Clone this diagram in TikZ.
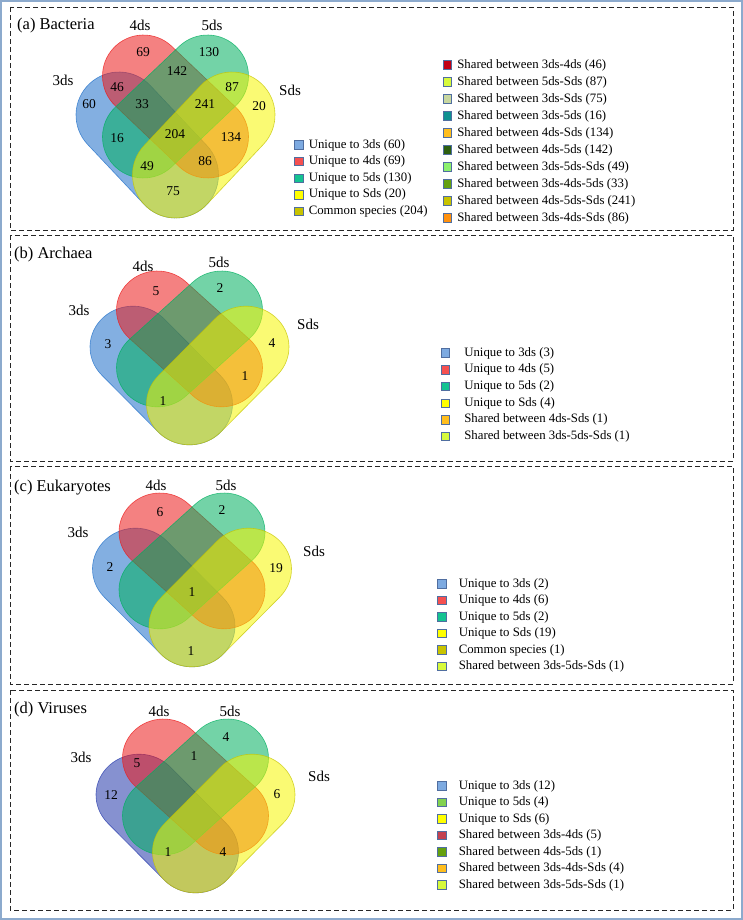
\documentclass[tikz,border=0pt]{standalone}
\usepackage{fontspec}
\setmainfont{Liberation Serif}
\usetikzlibrary{shapes.misc, positioning}
\definecolor{vnblue}{RGB}{30,110,200}
\definecolor{vnindigo}{RGB}{35,55,170}
\definecolor{vnred}{RGB}{235,25,25}
\definecolor{vngreen}{RGB}{0,175,95}
\definecolor{vnyellow}{RGB}{245,245,0}
\definecolor{frameblue}{RGB}{140,170,205}
\definecolor{lgedge}{RGB}{80,110,160}
\definecolor{lgblue}{RGB}{125,170,225}
\definecolor{lgred}{RGB}{245,80,80}
\definecolor{lgteal}{RGB}{20,195,145}
\definecolor{lgyellow}{RGB}{255,255,0}
\definecolor{lgolive}{RGB}{200,195,0}
\definecolor{lgmaroon}{RGB}{195,0,20}
\definecolor{lglime}{RGB}{215,250,60}
\definecolor{lgpale}{RGB}{200,215,160}
\definecolor{lgcyan}{RGB}{15,145,145}
\definecolor{lgamber}{RGB}{255,190,30}
\definecolor{lgforest}{RGB}{45,95,15}
\definecolor{lgmint}{RGB}{140,240,110}
\definecolor{lggrass}{RGB}{100,160,15}
\definecolor{lgorange}{RGB}{255,145,15}
\definecolor{lgrose}{RGB}{195,65,80}
\definecolor{lgleaf}{RGB}{130,210,80}
\tikzset{
  vset/.style={rounded rectangle, inner sep=0pt, transform shape,
              fill opacity=0.55, draw opacity=0.75, line width=0.6pt},
  panel/.style={draw=black!85, line width=0.9pt, dash pattern=on 5pt off 3pt},
  setlbl/.style={font=\fontsize{15}{15}\selectfont, inner sep=0pt},
  ptitle/.style={font=\fontsize{16.5}{16.5}\selectfont, inner sep=0pt, anchor=west},
  cnt/.style={font=\fontsize{13.5}{13.5}\selectfont, inner sep=0pt},
  lgbox/.style={draw=lgedge, line width=0.7pt, minimum size=8.5pt, inner sep=0pt},
  lgtext/.style={font=\fontsize{12.8}{12.8}\selectfont, inner sep=0pt},
}
% four-set venn, placed by its top centre
\newcommand{\vennfour}[5]{%
  \begin{scope}[shift={(#2,#3)}, yscale=#4]
    \node[vset, fill=#5, draw=#5, minimum width=168.4pt, minimum height=86pt, rotate=-46.7] (#1-3ds) at (-28.25,110) {};
    \node[vset, fill=vnred, draw=vnred, minimum width=170.4pt, minimum height=82pt, rotate=-43.6] (#1-4ds) at (0,71.5) {};
    \node[vset, fill=vngreen, draw=vngreen, minimum width=170.4pt, minimum height=82pt, rotate=43.6] (#1-5ds) at (0,71.5) {};
    \node[vset, fill=vnyellow, draw=vnyellow!80!black, minimum width=168.4pt, minimum height=86pt, rotate=46.7] (#1-Sds) at (28.25,110) {};
  \end{scope}}

\begin{document}
\begin{tikzpicture}[x=1pt,y=-1pt]
  \useasboundingbox (0,0) rectangle (743,920);
  \draw[frameblue, line width=1.2pt] (1,1) rectangle (742,919);
  \draw[panel] (10,7) rectangle (733,230);
  \draw[panel] (10,235) rectangle (733,461);
  \draw[panel] (10,466) rectangle (733,684);
  \draw[panel] (10,690) rectangle (733,910);

  % (a) Bacteria
  \vennfour{a}{175.5}{35}{1}{vnblue}
  \node[ptitle] (a-title) at (17,26) {(a) Bacteria};
  \node[setlbl] (a-l3ds) at (63,80) {3ds};
  \node[setlbl] (a-l4ds) at (140,25) {4ds};
  \node[setlbl] (a-l5ds) at (212,25) {5ds};
  \node[setlbl] (a-lSds) at (290,90) {Sds};
  \foreach \p/\v [count=\i] in {{143,52}/69, {209,52}/130, {177,71}/142, {117,87}/46,
      {232,87}/87, {89,104}/60, {142,104}/33, {205,104}/241, {259,106}/20, {117,138}/16,
      {175,134}/204, {231,137}/134, {147,166}/49, {205,161}/86, {173,191}/75}
    \node[cnt] (a-c\i) at (\p) {\v};
  \foreach \c/\t [count=\i from 0] in {lgblue/Unique to 3ds (60), lgred/Unique to 4ds (69),
      lgteal/Unique to 5ds (130), lgyellow/Unique to Sds (20), lgolive/Common species (204)}{
    \node[lgbox, fill=\c] (a-u\i) at (299,145+16.6*\i) {};
    \node[lgtext, right=5pt of a-u\i] (a-ut\i) {\t};
  }
  \foreach \c/\t [count=\i from 0] in {lgmaroon/Shared between 3ds-4ds (46),
      lglime/Shared between 5ds-Sds (87), lgpale/Shared between 3ds-Sds (75),
      lgcyan/Shared between 3ds-5ds (16), lgamber/Shared between 4ds-Sds (134),
      lgforest/Shared between 4ds-5ds (142), lgmint/Shared between 3ds-5ds-Sds (49),
      lggrass/Shared between 3ds-4ds-5ds (33), lgolive/Shared between 4ds-5ds-Sds (241),
      lgorange/Shared between 3ds-4ds-Sds (86)}{
    \node[lgbox, fill=\c] (a-s\i) at (447.5,65+17*\i) {};
    \node[lgtext, right=5pt of a-s\i] (a-st\i) {\t};
  }

  % (b) Archaea
  \vennfour{b}{189.5}{271}{0.95}{vnblue}
  \node[ptitle] (b-title) at (14,255) {(b) Archaea};
  \node[setlbl] (b-l3ds) at (79,310) {3ds};
  \node[setlbl] (b-l4ds) at (143,266) {4ds};
  \node[setlbl] (b-l5ds) at (219,262) {5ds};
  \node[setlbl] (b-lSds) at (308,324) {Sds};
  \foreach \p/\v [count=\i] in {{156,291}/5, {220,288}/2, {108,344}/3, {272,343}/4,
      {245,376}/1, {163,401}/1}
    \node[cnt] (b-c\i) at (\p) {\v};
  \foreach \c/\t [count=\i from 0] in {lgblue/Unique to 3ds (3), lgred/Unique to 4ds (5),
      lgteal/Unique to 5ds (2), lgyellow/Unique to Sds (4), lgamber/Shared between 4ds-Sds (1),
      lglime/Shared between 3ds-5ds-Sds (1)}{
    \node[lgbox, fill=\c] (b-u\i) at (445.5,353+16.7*\i) {};
    \node[lgtext, right=14pt of b-u\i] (b-ut\i) {\t};
  }

  % (c) Eukaryotes
  \vennfour{c}{192}{493}{0.95}{vnblue}
  \node[ptitle] (c-title) at (14,488) {(c) Eukaryotes};
  \node[setlbl] (c-l3ds) at (78,532) {3ds};
  \node[setlbl] (c-l4ds) at (156,485) {4ds};
  \node[setlbl] (c-l5ds) at (226,485) {5ds};
  \node[setlbl] (c-lSds) at (314,551) {Sds};
  \foreach \p/\v [count=\i] in {{160,512}/6, {222,510}/2, {110,567}/2, {276,568}/19,
      {192,592}/1, {191,651}/1}
    \node[cnt] (c-c\i) at (\p) {\v};
  \foreach \c/\t [count=\i from 0] in {lgblue/Unique to 3ds (2), lgred/Unique to 4ds (6),
      lgteal/Unique to 5ds (2), lgyellow/Unique to Sds (19), lgolive/Common species (1),
      lglime/Shared between 3ds-5ds-Sds (1)}{
    \node[lgbox, fill=\c] (c-u\i) at (442,584+16.5*\i) {};
    \node[lgtext, right=12pt of c-u\i] (c-ut\i) {\t};
  }

  % (d) Viruses
  \vennfour{d}{195.5}{719}{0.95}{vnindigo}
  \node[ptitle] (d-title) at (14,710) {(d) Viruses};
  \node[setlbl] (d-l3ds) at (81,757) {3ds};
  \node[setlbl] (d-l4ds) at (159,711) {4ds};
  \node[setlbl] (d-l5ds) at (230,711) {5ds};
  \node[setlbl] (d-lSds) at (319,776) {Sds};
  \foreach \p/\v [count=\i] in {{226,737}/4, {194,756}/1, {137,763}/5, {111,795}/12,
      {277,794}/6, {168,852}/1, {223,852}/4}
    \node[cnt] (d-c\i) at (\p) {\v};
  \foreach \c/\t [count=\i from 0] in {lgblue/Unique to 3ds (12), lgleaf/Unique to 5ds (4),
      lgyellow/Unique to Sds (6), lgrose/Shared between 3ds-4ds (5),
      lggrass/Shared between 4ds-5ds (1), lgamber/Shared between 3ds-4ds-Sds (4),
      lglime/Shared between 3ds-5ds-Sds (1)}{
    \node[lgbox, fill=\c] (d-u\i) at (442,786+16.5*\i) {};
    \node[lgtext, right=12pt of d-u\i] (d-ut\i) {\t};
  }
\end{tikzpicture}
\end{document}
